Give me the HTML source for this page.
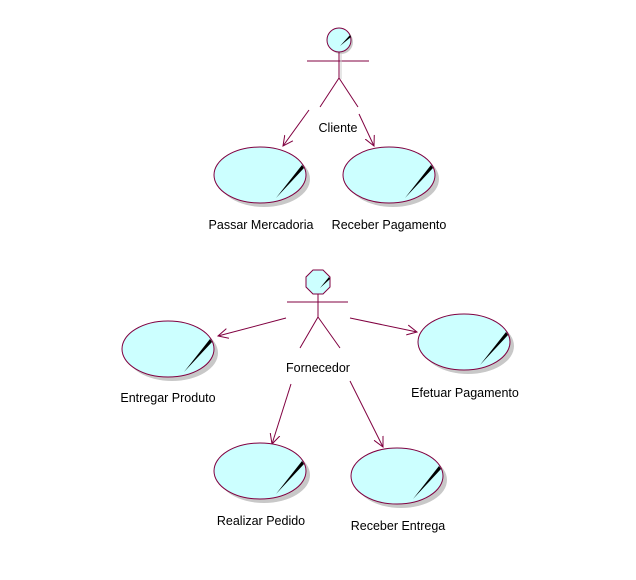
<!DOCTYPE html>
<html><head><style>
body{margin:0;background:#fff}
svg text{font-family:"Liberation Sans",sans-serif;font-size:12.5px;fill:#000}
</style></head><body>
<svg width="636" height="575" viewBox="0 0 636 575" xmlns="http://www.w3.org/2000/svg">
<defs>
<g id="uc">
<ellipse cx="4" cy="4" rx="46" ry="28" fill="#c8c8c8"/>
<ellipse cx="0" cy="0" rx="46" ry="28" fill="#ccffff" stroke="#800040" stroke-width="1"/>
<path d="M16 23 L42 -10 L44 -7 Z" fill="#000"/>
</g>
<marker id="ar" markerWidth="12" markerHeight="12" refX="10" refY="6" orient="auto" markerUnits="userSpaceOnUse">
<path d="M0 1 L10 6 L0 11" fill="none" stroke="#800040" stroke-width="1"/>
</marker>
</defs>
<g stroke="#800040" stroke-width="1" fill="none">
<circle cx="341" cy="42" r="12" fill="#c8c8c8" stroke="none"/>
<circle cx="339" cy="40" r="12" fill="#ccffff"/>
<line x1="307" y1="61" x2="369" y2="61"/>
<line x1="339" y1="52" x2="339" y2="78"/>
<line x1="339" y1="78" x2="320" y2="107"/>
<line x1="339" y1="78" x2="358" y2="107"/>
<line x1="341" y1="53" x2="341" y2="79" stroke="#ccc"/>
<line x1="309" y1="110" x2="283" y2="146" marker-end="url(#ar)"/>
<line x1="359" y1="114" x2="374" y2="146" marker-end="url(#ar)"/>
<polygon points="313,270 323,270 330,277 330,287 323,294 313,294 306,287 306,277" fill="#ccffff"/>
<line x1="287" y1="302" x2="348" y2="302"/>
<line x1="318" y1="294" x2="318" y2="317"/>
<line x1="318" y1="317" x2="300" y2="348"/>
<line x1="318" y1="317" x2="340" y2="348"/>
<line x1="286" y1="318" x2="218" y2="336" marker-end="url(#ar)"/>
<line x1="350" y1="318" x2="417" y2="332" marker-end="url(#ar)"/>
<line x1="291" y1="384" x2="272" y2="444" marker-end="url(#ar)"/>
<line x1="350" y1="381" x2="383" y2="447" marker-end="url(#ar)"/>
</g>
<path d="M340 46 L350 35 L351 37 Z" fill="#000"/>
<path d="M320 288 L329 277 L330 279 Z" fill="#000"/>
<use href="#uc" x="260" y="175"/>
<use href="#uc" x="389" y="175"/>
<use href="#uc" x="168" y="349"/>
<use href="#uc" x="464" y="342"/>
<use href="#uc" x="260" y="471"/>
<use href="#uc" x="397" y="476"/>
<text x="338" y="132" text-anchor="middle">Cliente</text>
<text x="261" y="229" text-anchor="middle">Passar Mercadoria</text>
<text x="389" y="229" text-anchor="middle">Receber Pagamento</text>
<text x="318" y="372" text-anchor="middle">Fornecedor</text>
<text x="168" y="402" text-anchor="middle">Entregar Produto</text>
<text x="465" y="397" text-anchor="middle">Efetuar Pagamento</text>
<text x="261" y="525" text-anchor="middle">Realizar Pedido</text>
<text x="398" y="530" text-anchor="middle">Receber Entrega</text>
</svg>
</body></html>
